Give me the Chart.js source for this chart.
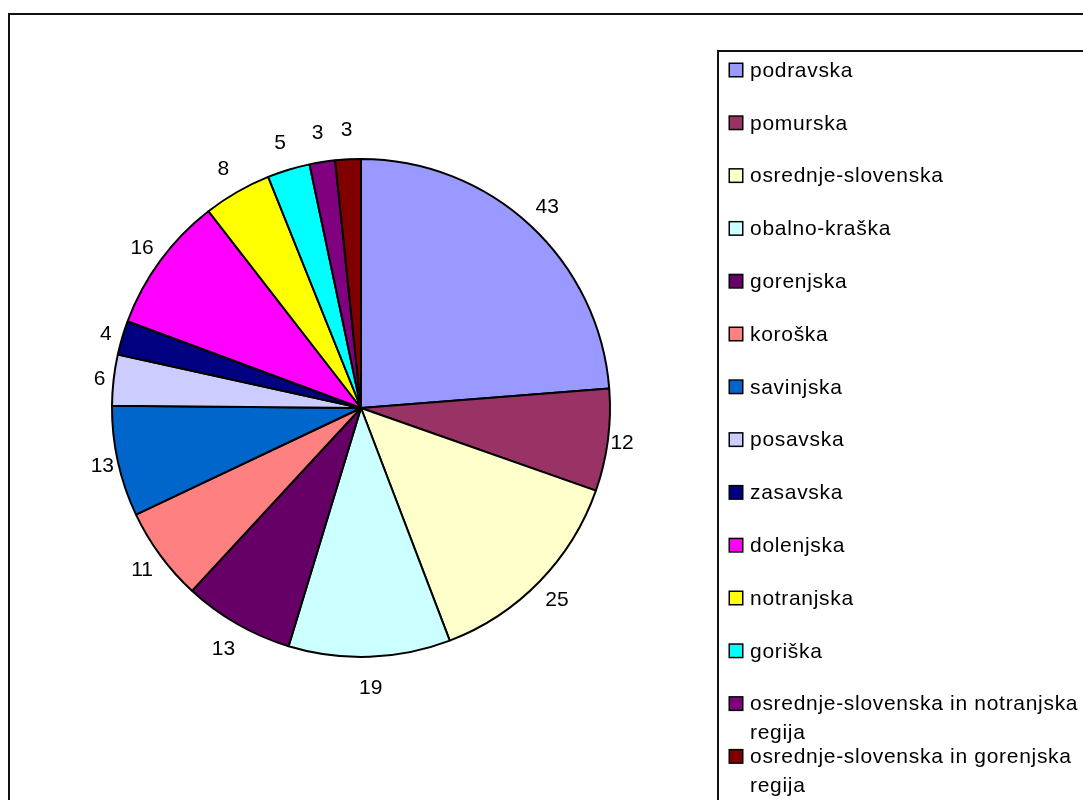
<!DOCTYPE html>
<html>
<head>
<meta charset="utf-8">
<script src="https://cdn.jsdelivr.net/npm/chart.js@4/dist/chart.umd.min.js"></script>
<style>
  html, body { margin: 0; padding: 0; background: #fff; }
  canvas { display: block; }
</style>
</head>
<body>
<canvas id="regionPie" width="1083" height="800"></canvas>
<script>
// Regions and counts, in slice order (clockwise from 12 o'clock)
const regions = [
  'podravska', 'pomurska', 'osrednje-slovenska', 'obalno-kraška', 'gorenjska',
  'koroška', 'savinjska', 'posavska', 'zasavska', 'dolenjska', 'notranjska',
  'goriška', 'osrednje-slovenska in notranjska regija', 'osrednje-slovenska in gorenjska regija'
];
const counts = [43, 12, 25, 19, 13, 11, 13, 6, 4, 16, 8, 5, 3, 3];
const sliceColors = [
  '#9999FF', '#993366', '#FFFFCC', '#CCFFFF', '#660066',
  '#FF8080', '#0066CC', '#CCCCFF', '#000080', '#FF00FF', '#FFFF00',
  '#00FFFF', '#800080', '#800000'
];

const FONT = '21px "Liberation Sans", Arial, sans-serif';

// outer frame + legend box, drawn on the canvas
const framePlugin = {
  id: 'frame',
  beforeDraw(chart) {
    const ctx = chart.ctx;
    ctx.save();
    ctx.fillStyle = '#fff';
    ctx.fillRect(0, 0, chart.width, chart.height);
    ctx.strokeStyle = '#111';
    ctx.lineWidth = 2;
    ctx.strokeRect(9, 14, chart.width + 40, chart.height + 40);
    ctx.restore();
  },
  afterDraw(chart) {
    const ctx = chart.ctx;
    ctx.save();
    ctx.strokeStyle = '#111';
    ctx.lineWidth = 2;
    ctx.strokeRect(718, 51, chart.width, chart.height);

    ctx.font = FONT;
    ctx.letterSpacing = '0.7px';
    ctx.textBaseline = 'middle';
    ctx.textAlign = 'left';
    const maxW = 345;
    chart.data.labels.forEach((name, i) => {
      const y = 70 + i * 52.8;
      // square marker
      ctx.fillStyle = chart.data.datasets[0].backgroundColor[i];
      ctx.fillRect(729.5, y - 6.5, 13, 13);
      ctx.strokeStyle = '#000';
      ctx.lineWidth = 1.5;
      ctx.strokeRect(729.25, y - 6.75, 13.5, 13.5);

      // word wrap
      const words = name.split(' ');
      const lines = [];
      let cur = '';
      words.forEach(w => {
        const test = cur ? cur + ' ' + w : w;
        if (cur && ctx.measureText(test).width > maxW) {
          lines.push(cur);
          cur = w;
        } else {
          cur = test;
        }
      });
      lines.push(cur);
      ctx.fillStyle = '#000';
      lines.forEach((ln, k) => ctx.fillText(ln, 750, y + 1 + k * 29));
    });
    ctx.restore();
  }
};

// value labels outside each slice
const valueLabels = {
  id: 'valueLabels',
  afterDatasetsDraw(chart) {
    const ctx = chart.ctx;
    const meta = chart.getDatasetMeta(0);
    const values = chart.data.datasets[0].data;
    ctx.save();
    ctx.font = FONT;
    ctx.fillStyle = '#000';
    ctx.textAlign = 'center';
    ctx.textBaseline = 'middle';
    meta.data.forEach((arc, i) => {
      const p = arc.getProps(['x', 'y', 'startAngle', 'endAngle', 'outerRadius'], true);
      const mid = (p.startAngle + p.endAngle) / 2;
      const dx = Math.cos(mid), dy = Math.sin(mid);
      const r = p.outerRadius + 12 + 18 * Math.abs(dy);
      ctx.fillText(String(values[i]), p.x + dx * r, p.y + dy * r + 1);
    });
    ctx.restore();
  }
};

new Chart(document.getElementById('regionPie'), {
  type: 'pie',
  data: {
    labels: regions,
    datasets: [{
      data: counts,
      backgroundColor: sliceColors,
      borderColor: '#000',
      borderWidth: 2
    }]
  },
  options: {
    responsive: false,
    animation: false,
    layout: { padding: { left: 111, top: 158, right: 472, bottom: 142 } },
    plugins: {
      legend: { display: false },
      tooltip: { enabled: false }
    }
  },
  plugins: [framePlugin, valueLabels]
});
</script>
</body>
</html>
